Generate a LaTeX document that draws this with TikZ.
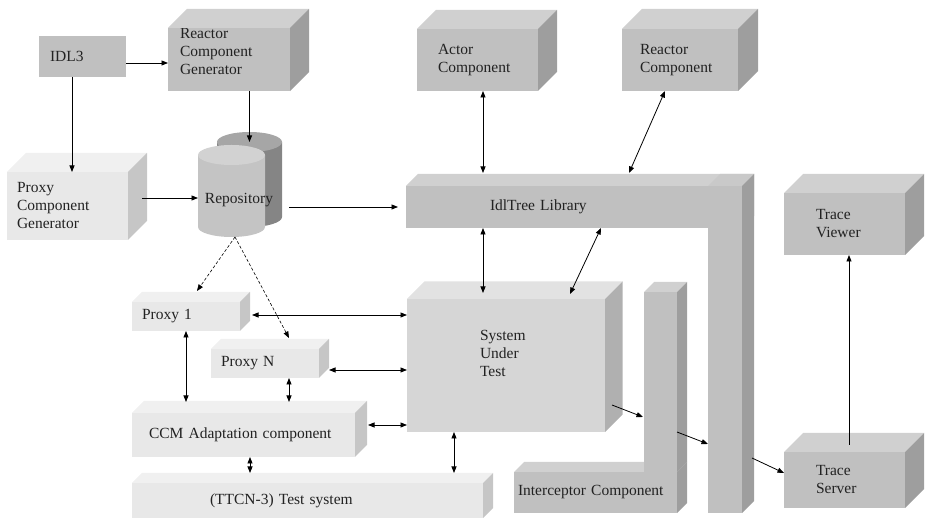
\documentclass[tikz,border=0pt]{standalone}
\usepackage{fontspec}
\setmainfont{Liberation Serif}
\usepackage{xcolor}
\usepackage{tikz}
\usetikzlibrary{arrows.meta, shapes.geometric, positioning}

\definecolor{midfront}{HTML}{C0C0C0}
\definecolor{midtop}{HTML}{D0D0D0}
\definecolor{midside}{HTML}{9E9E9E}
\definecolor{seamtop}{HTML}{C9C9C9}
\definecolor{sutfront}{HTML}{D6D6D6}
\definecolor{suttop}{HTML}{E2E2E2}
\definecolor{sutside}{HTML}{B0B0B0}
\definecolor{palefront}{HTML}{E8E8E8}
\definecolor{paletop}{HTML}{F0F0F0}
\definecolor{paleside}{HTML}{C6C6C6}
\definecolor{repobody}{HTML}{C4C4C4}
\definecolor{repoend}{HTML}{D2D2D2}
\definecolor{backbody}{HTML}{858585}
\definecolor{backend}{HTML}{A6A6A6}
\definecolor{textgray}{HTML}{222222}

% top and right faces of a box node
\newcommand{\cubefaces}[4]{%
  \fill[#3] (#1.north west) -- ++(#2,#2) -- ([shift={(#2,#2)}]#1.north east) -- (#1.north east) -- cycle;
  \fill[#4] (#1.north east) -- ([shift={(#2,#2)}]#1.north east) -- ([shift={(#2,#2)}]#1.south east) -- (#1.south east) -- cycle;
}
% body and top of a drum drawn over a node
\newcommand{\drumfill}[4]{%
  \fill[#2] ([yshift=-10pt]#1.north west) -- ([yshift=10pt]#1.south west)
    arc[start angle=180, end angle=360, x radius=#4pt, y radius=10pt] -- ([yshift=-10pt]#1.north east) -- cycle;
  \fill[#3] ([yshift=-10pt]#1.north) ellipse[x radius=#4pt, y radius=10pt];
}

\begin{document}
\begin{tikzpicture}[x=1pt, y=1pt,
  txt/.style={text=textgray, font=\fontsize{15.5}{18}\selectfont},
  block/.style={rectangle, inner sep=0pt, outer sep=0pt, align=left, txt},
  dims/.style 2 args={minimum width=#1pt, minimum height=#2pt},
  arr/.style={-{Triangle[length=6.5pt,width=5pt]}, line width=0.8pt},
  both/.style={{Triangle[length=6.5pt,width=5pt]}-{Triangle[length=6.5pt,width=5pt]}, line width=0.8pt},
  dasharr/.style={arr, line width=0.6pt, dash pattern=on 3pt off 2pt}
]
\useasboundingbox (0,0) rectangle (927,519);

\node[block, fill=midfront, dims={87}{41}, text width=65pt] (idl) at (82.5,462.5) {IDL3};
\node[block, fill=midfront, dims={122}{63}, text width=98pt, text depth=53pt] (rcg) at (229,459.5) {Reactor\\Component\\Generator};
\node[block, fill=palefront, dims={121}{68}, text width=101pt] (pcg) at (67.5,313) {Proxy\\Component\\Generator};
\node[block, fill=midfront, dims={121}{62}, text width=79pt] (actor) at (477.5,459) {Actor\\Component};
\node[block, fill=midfront, dims={116}{62}, text width=80pt] (rc) at (680,459) {Reactor\\Component};
\node[block, fill=midfront, dims={121}{62}, text width=57pt] (tv) at (844.5,295) {Trace\\Viewer};
\node[block, fill=midfront, dims={121}{56}, text width=57pt] (ts) at (844.5,39) {Trace\\Server};
\node[block, fill=sutfront, dims={198}{133}, text width=52pt, text depth=60pt] (sut) at (506,153.5) {System\\Under\\Test};
\node[block, fill=palefront, dims={108}{29}, text width=88pt] (proxy1) at (186,202.5) {Proxy 1};
\node[block, fill=palefront, dims={108}{29}, text width=88pt] (proxyn) at (265,155.5) {Proxy N};
\node[block, fill=palefront, dims={223}{44}, text width=189pt] (ccm) at (243.5,84) {CCM Adaptation component};
\node[block, fill=palefront, dims={351}{35}, text width=195pt] (ttcn) at (307.5,18.5) {(TTCN-3) Test system};

\cubefaces{rcg}{19}{midtop}{midside}
\cubefaces{pcg}{19}{paletop}{paleside}
\cubefaces{actor}{19}{midtop}{midside}
\cubefaces{rc}{20}{midtop}{midside}
\cubefaces{tv}{19}{midtop}{midside}
\cubefaces{ts}{19}{midtop}{midside}
\cubefaces{sut}{17.5}{suttop}{sutside}
\cubefaces{proxy1}{10}{paletop}{paleside}
\cubefaces{proxyn}{10}{paletop}{paleside}
\cubefaces{ccm}{12}{paletop}{paleside}
\cubefaces{ttcn}{10}{paletop}{paleside}

\node[block, fill=midfront, dims={336}{42}, text width=168pt] (idltree) at (574,312) {IdlTree Library};
\node[block, fill=midfront, dims={34}{327}] (idlvert) at (725,169.5) {};
\cubefaces{idltree}{12}{midtop}{midside}
\cubefaces{idlvert}{12}{seamtop}{midside}

\node[block, fill=midfront, dims={163}{41}, text width=155pt] (intc) at (595.5,26.5) {Interceptor Component};
\cubefaces{intc}{10}{midtop}{midside}
\node[block, fill=midfront, dims={33}{180}] (intcvert) at (660.5,137) {};
\cubefaces{intcvert}{10}{midtop}{midside}

\node[block, dims={65}{95}] (repoback) at (249.5,339.5) {};
\drumfill{repoback}{backbody}{backend}{32.5}
\node[block, dims={67}{92}] (repo) at (231.5,328) {};
\drumfill{repo}{repobody}{repoend}{33.5}
\node[txt] (repotext) at (239,319) {Repository};

\draw[arr] ([yshift=-6.5pt]idl.east) -- ([yshift=-6.5pt]idl.east -| rcg.west);
\draw[arr] ([xshift=-10.5pt]idl.south) -- ([xshift=-10.5pt]idl.south |- pcg.north);
\draw[arr] (rcg.south -| repoback.north) -- ([yshift=-10pt]repoback.north);
\draw[arr] ([xshift=14pt,yshift=8pt]pcg.east) -- ([yshift=8pt]pcg.east -| repo.west);
\draw[arr] ([xshift=7pt]repoback.east |- idltree.west) -- ([xshift=-8pt]idltree.west);
\draw[dasharr] ([xshift=3.5pt]repo.south) -- ([shift={(11,11)}]proxy1.north);
\draw[dasharr] ([xshift=3.5pt]repo.south) -- ([shift={(24,11)}]proxyn.north);
\draw[both] ([xshift=12pt,yshift=1.5pt]proxy1.east) -- ([yshift=1.5pt]proxy1.east -| sut.west);
\draw[both] ([xshift=10pt,yshift=-6.5pt]proxyn.east) -- ([yshift=-6.5pt]proxyn.east -| sut.west);
\draw[both] ([xshift=13pt,yshift=10pt]ccm.east) -- ([yshift=10pt]ccm.east -| sut.west);
\draw[both] (proxy1.south) -- ([yshift=11pt]proxy1.south |- ccm.north);
\draw[both] ([xshift=24pt]proxyn.south) -- ([xshift=24pt,yshift=11pt]proxyn.south |- ccm.north);
\draw[both] ([xshift=6.5pt]ccm.south) -- ([xshift=6.5pt,yshift=10pt]ccm.south |- ttcn.north);
\draw[both] ([xshift=-52pt]sut.south) -- ([xshift=-52pt,yshift=10pt]sut.south |- ttcn.north);
\draw[both] ([xshift=5.5pt]actor.south) -- ([xshift=5.5pt,yshift=13pt]actor.south |- idltree.north);
\draw[both] ([xshift=-15pt]rc.south) -- ([xshift=55pt,yshift=13pt]idltree.north);
\draw[both] ([xshift=-91pt]idltree.south) -- ([xshift=-91pt,yshift=6pt]idltree.south |- sut.north);
\draw[both] ([xshift=27pt]idltree.south) -- ([xshift=64pt,yshift=5pt]sut.north);
\draw[arr] ([xshift=7pt,yshift=-39.5pt]sut.east) -- ([xshift=-1pt,yshift=-35pt]intcvert.west);
\draw[arr] ([yshift=-50pt]intcvert.east) -- ([yshift=-94.5pt]idlvert.west);
\draw[arr] ([xshift=10pt,yshift=-108.5pt]idlvert.east) -- ([yshift=7pt]ts.west);
\draw[arr] ([xshift=4.5pt,yshift=7pt]ts.north) -- ([xshift=4.5pt]tv.south);
\end{tikzpicture}
\end{document}
